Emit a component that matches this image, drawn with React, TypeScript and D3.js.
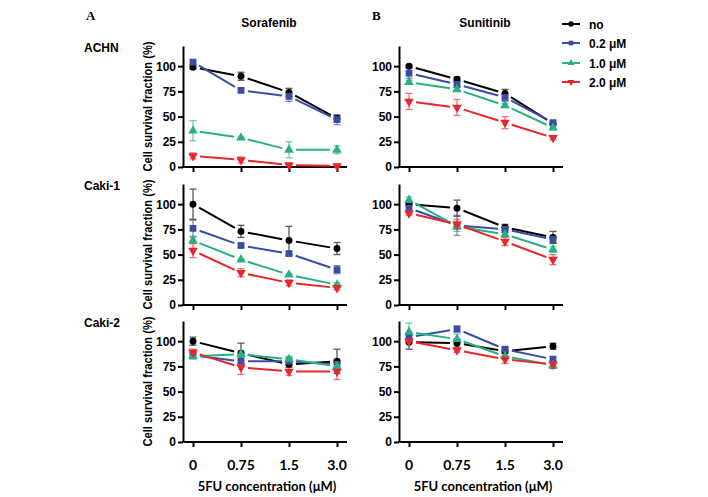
import React, { useEffect, useRef } from "react";
import * as d3 from "d3";

const concentrations = ["0", "0.75", "1.5", "3.0"];
const seriesNames = ["no", "0.2 \u03bcM", "1.0 \u03bcM", "2.0 \u03bcM"];
const seriesColors = ["#000000", "#3a4ca6", "#27b084", "#e8262c"];
const seriesSymbols = ["circle", "square", "triangleUp", "triangleDown"];
const drugs = ["Sorafenib", "Sunitinib"];
const cellLines = ["ACHN", "Caki-1", "Caki-2"];
const yTicks = [0, 25, 50, 75, 100];

// means per series [no, 0.2, 1.0, 2.0] at concentrations
const achnSorafenibMean = [[99, 90, 74, 48], [104, 76, 70, 47], [36, 29, 17, 17], [11, 7, 2, 1]];
const achnSorafenibErr = [[2, 4, 4, 3], [2, 2, 5, 5], [10, 1, 8, 4], [3, 3, 1, 1]];
const achnSunitinibMean = [[100, 87, 73, 43], [93, 82, 69, 44], [84, 77, 61, 39], [65, 59, 44, 29]];
const achnSunitinibErr = [[1, 2, 4, 1], [5, 3, 4, 2], [2, 2, 2, 2], [8, 8, 6, 2]];
const caki1SorafenibMean = [[100, 73, 64, 56], [76, 59, 51, 35], [64, 45, 30, 20], [54, 32, 22, 17]];
const caki1SorafenibErr = [[15, 6, 14, 6], [8, 2, 2, 4], [3, 1, 1, 2], [7, 4, 3, 2]];
const caki1SunitinibMean = [[100, 96, 77, 67], [96, 79, 75, 65], [104, 78, 70, 55], [91, 80, 63, 45]];
const caki1SunitinibErr = [[1, 8, 3, 6], [5, 10, 3, 3], [3, 5, 2, 3], [2, 5, 4, 5]];
const caki2SorafenibMean = [[100, 88, 77, 80], [86, 80, 80, 77], [85, 87, 82, 75], [89, 74, 70, 70]];
const caki2SorafenibErr = [[4, 10, 3, 12], [3, 4, 4, 4], [3, 3, 3, 3], [3, 7, 4, 8]];
const caki2SunitinibMean = [[99, 98, 90, 95], [104, 112, 92, 82], [109, 102, 85, 76], [100, 91, 82, 77]];
const caki2SunitinibErr = [[7, 4, 2, 3], [3, 3, 2, 3], [9, 5, 3, 3], [2, 2, 4, 4]];

const panelMeans = [
  [achnSorafenibMean, achnSunitinibMean],
  [caki1SorafenibMean, caki1SunitinibMean],
  [caki2SorafenibMean, caki2SunitinibMean],
];
const panelErrs = [
  [achnSorafenibErr, achnSunitinibErr],
  [caki1SorafenibErr, caki1SunitinibErr],
  [caki2SorafenibErr, caki2SunitinibErr],
];

const W = 708;
const H = 497;
const colAxisX = [183, 399];
const rowBottom = [167, 305, 442];
const plotH = 121;
const arial = "'Liberation Sans', Arial, sans-serif";
const calibri = "Lato, 'Open Sans', sans-serif";

function symbolPath(kind: string) {
  if (kind === "circle") return d3.symbol(d3.symbolCircle, 38)()!;
  if (kind === "square") return d3.symbol(d3.symbolSquare, 46)()!;
  return d3.symbol(d3.symbolTriangle, 40)()!;
}

export default function App() {
  const ref = useRef<SVGSVGElement>(null);

  useEffect(() => {
    const svg = d3.select(ref.current);
    svg.selectAll("*").remove();

    // Column letters and titles
    svg.append("text").attr("x", 86).attr("y", 20).text("A")
      .attr("font-family", "'Liberation Serif', serif").attr("font-weight", "bold").attr("font-size", 13);
    svg.append("text").attr("x", 372).attr("y", 20).text("B")
      .attr("font-family", "'Liberation Serif', serif").attr("font-weight", "bold").attr("font-size", 13);

    drugs.forEach((d, c) => {
      svg.append("text").attr("x", colAxisX[c] + 86).attr("y", 27).attr("text-anchor", "middle")
        .attr("font-family", arial).attr("font-weight", "bold").attr("font-size", 12).text(d);
    });

    cellLines.forEach((cl, r) => {
      svg.append("text").attr("x", 84).attr("y", rowBottom[r] - 115).attr("font-family", arial)
        .attr("font-weight", "bold").attr("font-size", 12).text(cl);
    });

    for (let r = 0; r < 3; r++) {
      const y = d3.scaleLinear().domain([0, 120]).range([rowBottom[r], rowBottom[r] - plotH]);
      // y label
      const cy = (rowBottom[r] + rowBottom[r] - plotH) / 2;
      svg.append("text").attr("transform", `translate(152,${cy}) rotate(-90)`)
        .attr("text-anchor", "middle").attr("font-family", arial).attr("font-weight", "bold")
        .attr("font-size", 12.5).attr("textLength", 130).attr("lengthAdjust", "spacingAndGlyphs")
        .text("Cell survival fraction (%)");

      for (let c = 0; c < 2; c++) {
        const ax = colAxisX[c];
        const x = d3.scalePoint<string>().domain(concentrations).range([ax + 10, ax + 154]);
        const g = svg.append("g");

        // y axis
        const yAxis = d3.axisLeft(y).tickValues(yTicks).tickSize(5).tickSizeOuter(0).tickPadding(2);
        const ya = g.append("g").attr("transform", `translate(${ax},0)`).call(yAxis);
        ya.select(".domain").attr("stroke-width", 2);
        ya.selectAll(".tick line").attr("stroke-width", 2);
        ya.selectAll(".tick text").attr("font-family", arial).attr("font-weight", "bold").attr("font-size", 12).attr("fill", "#000");

        // x axis
        const xAxis = d3.axisBottom(x).tickSize(5).tickSizeOuter(0).tickFormat(() => "");
        const xa = g.append("g").attr("transform", `translate(0,${rowBottom[r]})`).call(xAxis);
        xa.select(".domain").remove();
        xa.selectAll(".tick line").attr("stroke-width", 2);
        g.append("line").attr("x1", ax - 1).attr("x2", ax + 164).attr("y1", rowBottom[r]).attr("y2", rowBottom[r])
          .attr("stroke", "#000").attr("stroke-width", 2);

        if (r === 2) {
          concentrations.forEach((cc) => {
            g.append("text").attr("x", x(cc)!).attr("y", rowBottom[r] + 28).attr("text-anchor", "middle")
              .attr("font-family", calibri).attr("font-weight", "bold").attr("font-size", 14).text(cc);
          });
          g.append("text").attr("x", ax + 84).attr("y", rowBottom[r] + 49).attr("text-anchor", "middle")
            .attr("font-family", calibri).attr("font-weight", "bold").attr("font-size", 13)
            .text("5FU concentration (\u03bcM)");
        }

        const means = panelMeans[r][c];
        const errs = panelErrs[r][c];
        const gap = 7;
        // lines with gaps
        means.forEach((vals, s) => {
          for (let i = 0; i < vals.length - 1; i++) {
            const x1 = x(concentrations[i])!, y1 = y(vals[i]);
            const x2 = x(concentrations[i + 1])!, y2 = y(vals[i + 1]);
            const len = Math.hypot(x2 - x1, y2 - y1);
            const ux = (x2 - x1) / len, uy = (y2 - y1) / len;
            g.append("line").attr("x1", x1 + ux * gap).attr("y1", y1 + uy * gap)
              .attr("x2", x2 - ux * gap).attr("y2", y2 - uy * gap)
              .attr("stroke", seriesColors[s]).attr("stroke-width", 2);
          }
        });
        // error bars
        means.forEach((vals, s) => {
          vals.forEach((v, i) => {
            const e = errs[s][i];
            const cx = x(concentrations[i])!;
            const eg = g.append("g").attr("stroke", seriesColors[s]).attr("stroke-width", 1.3).attr("opacity", 0.65);
            eg.append("line").attr("x1", cx).attr("x2", cx).attr("y1", y(v - e)).attr("y2", y(v + e));
            eg.append("line").attr("x1", cx - 3.5).attr("x2", cx + 3.5).attr("y1", y(v - e)).attr("y2", y(v - e));
            eg.append("line").attr("x1", cx - 3.5).attr("x2", cx + 3.5).attr("y1", y(v + e)).attr("y2", y(v + e));
          });
        });
        // markers
        means.forEach((vals, s) => {
          vals.forEach((v, i) => {
            const cx = x(concentrations[i])!;
            const rot = seriesSymbols[s] === "triangleDown" ? " rotate(180)" : "";
            g.append("path").attr("d", symbolPath(seriesSymbols[s]))
              .attr("transform", `translate(${cx},${y(v)})${rot}`).attr("fill", seriesColors[s]);
          });
        });
      }
    }

    // legend
    const legY = [24, 43, 63, 82];
    seriesNames.forEach((n, s) => {
      const lg = svg.append("g").attr("transform", `translate(0,${legY[s]})`);
      lg.append("line").attr("x1", 562).attr("x2", 580).attr("y1", 0).attr("y2", 0)
        .attr("stroke", seriesColors[s]).attr("stroke-width", 2);
      const rot = seriesSymbols[s] === "triangleDown" ? " rotate(180)" : "";
      lg.append("path").attr("d", d3.symbol(seriesSymbols[s] === "circle" ? d3.symbolCircle : seriesSymbols[s] === "square" ? d3.symbolSquare : d3.symbolTriangle, 22)()!)
        .attr("transform", `translate(571,0)${rot}`).attr("fill", seriesColors[s]);
      lg.append("text").attr("x", 589).attr("y", 4.5).attr("font-family", arial).attr("font-weight", "bold")
        .attr("font-size", 12).text(n);
    });
  }, []);

  return (
    <svg ref={ref} width={W} height={H} style={{ position: "absolute", left: 0, top: 0, background: "#fff" }} />
  );
}
